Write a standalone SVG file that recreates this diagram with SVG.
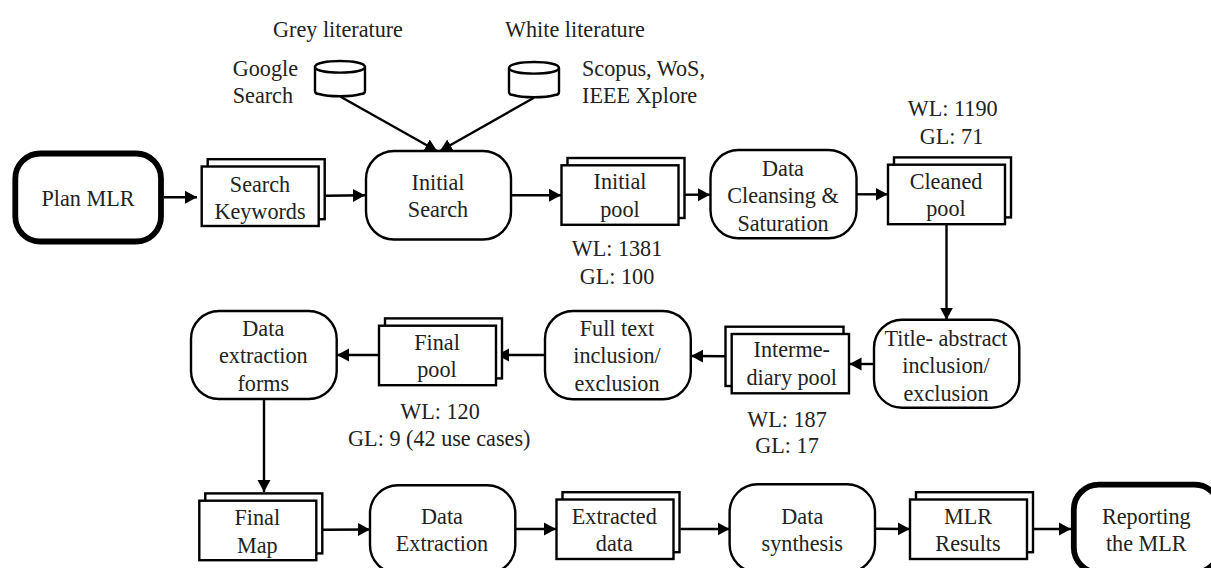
<svg xmlns="http://www.w3.org/2000/svg" width="1211" height="568" viewBox="0 0 1211 568">
<defs>
<style>
text{font-family:"Liberation Serif","Times New Roman",serif;font-size:22.2px;fill:#222;text-anchor:middle}
.p{fill:#fff;stroke:#000;stroke-width:2.4}
.t{fill:#fff;stroke:#000;stroke-width:5.8}
.d{fill:#fff;stroke:#000;stroke-width:2.4}
.n{fill:none;stroke:#000;stroke-width:2.4}
.c line{stroke:#000;stroke-width:2.4;marker-end:url(#a)}
.s{text-anchor:start}
</style>
<marker id="a" markerUnits="userSpaceOnUse" markerWidth="13" markerHeight="14" refX="12" refY="7" orient="auto"><path d="M0 0.500L12 7L0 13.500Z" fill="#000"/></marker>
<symbol id="doc" overflow="visible"><rect class="d" x="6" y="-7.300" width="117" height="60"/><rect class="d" width="117" height="59.500"/></symbol>
</defs>
<g id="connectors" class="c">
<line x1="164" y1="197.300" x2="197" y2="197.300"/>
<line x1="325.700" y1="195.700" x2="365" y2="195.300"/>
<line x1="340.600" y1="96.700" x2="437" y2="151"/>
<line x1="534" y1="97.700" x2="440" y2="151"/>
<line x1="511" y1="195.300" x2="561" y2="195.300"/>
<line x1="685" y1="194.700" x2="710" y2="194.700"/>
<line x1="856.400" y1="194.300" x2="887.600" y2="194.300"/>
<line x1="946.500" y1="224" x2="946.500" y2="319.700"/>
<line x1="874" y1="364" x2="849.500" y2="364"/>
<line x1="725.500" y1="356.300" x2="691" y2="356"/>
<line x1="545" y1="355" x2="497" y2="355"/>
<line x1="379" y1="355" x2="337" y2="355"/>
<line x1="264" y1="399" x2="264" y2="492"/>
<line x1="322.700" y1="529.700" x2="370" y2="529.500"/>
<line x1="515.300" y1="529" x2="556" y2="529"/>
<line x1="680.400" y1="529" x2="729.600" y2="529"/>
<line x1="875" y1="528.700" x2="909.800" y2="529"/>
<line x1="1033" y1="529" x2="1071" y2="529"/>
</g>
<g id="plan"><rect class="t" x="15.300" y="153.500" width="145.700" height="88" rx="25"/><text x="88" y="205.700">Plan MLR</text></g>
<g id="keywords"><use href="#doc" x="201.700" y="166.500"/><text x="260" y="191.700">Search</text><text x="260" y="218.700">Keywords</text></g>
<g id="grey-db"><path class="p" d="M315 67c0-8 50-8 50 0v24c0 2-1 3-4 3c-10 3-32 3-42 0c-3 0-4-1-4-3z"/><path class="n" d="M315 67c0 7.500 50 7.500 50 0"/></g>
<g id="white-db"><path class="p" d="M509 68c0-8 50-8 50 0v24c0 2-1 3-4 3c-10 3-32 3-42 0c-3 0-4-1-4-3z"/><path class="n" d="M509 68c0 7.500 50 7.500 50 0"/></g>
<g id="labels-top"><text x="338" y="36.700">Grey literature</text><text x="575" y="36.700">White literature</text><text class="s" x="232.700" y="76">Google</text><text class="s" x="232.700" y="102.700">Search</text><text class="s" x="582" y="76">Scopus, WoS,</text><text class="s" x="582" y="103">IEEE Xplore</text></g>
<g id="initial-search"><rect class="p" x="366" y="151" width="145" height="88.500" rx="28"/><text x="438" y="190">Initial</text><text x="438" y="217">Search</text></g>
<g id="initial-pool"><use href="#doc" x="561.500" y="165.300"/><text x="620" y="189.300">Initial</text><text x="620" y="216.700">pool</text><text x="617" y="256">WL: 1381</text><text x="617" y="284">GL: 100</text></g>
<g id="cleansing"><rect class="p" x="710.500" y="150" width="146" height="88.300" rx="28"/><text x="783" y="176">Data</text><text x="783" y="203.300">Cleansing &amp;</text><text x="783" y="231">Saturation</text></g>
<g id="cleaned-pool"><use href="#doc" x="888" y="164.700"/><text x="946" y="189">Cleaned</text><text x="946" y="216">pool</text><text x="952.700" y="116">WL: 1190</text><text x="951.500" y="144">GL: 71</text></g>
<g id="title-abstract"><rect class="p" x="874" y="319.700" width="145.300" height="88" rx="28"/><text x="946" y="346">Title- abstract</text><text x="946" y="373">inclusion/</text><text x="946" y="401">exclusion</text></g>
<g id="intermediary"><rect class="d" x="725.500" y="326.700" width="118" height="59.300"/><rect class="d" x="731.700" y="334" width="117.300" height="59.300"/><text x="791.700" y="356.700">Interme-</text><text x="791.700" y="385">diary pool</text><text x="787" y="427">WL: 187</text><text x="787" y="453">GL: 17</text></g>
<g id="full-text"><rect class="p" x="545" y="311" width="145.800" height="88.300" rx="28"/><text x="617" y="335.700">Full text</text><text x="617" y="363.300">inclusion/</text><text x="617" y="390.700">exclusion</text></g>
<g id="final-pool"><use href="#doc" x="379" y="325.700"/><text x="437" y="350">Final</text><text x="437" y="377">pool</text><text x="440" y="419">WL: 120</text><text x="439.300" y="446">GL: 9 (42 use cases)</text></g>
<g id="forms"><rect class="p" x="191" y="311" width="145.700" height="88" rx="28"/><text x="263.300" y="336">Data</text><text x="263.300" y="363.300">extraction</text><text x="263.300" y="390.700">forms</text></g>
<g id="final-map"><use href="#doc" x="199.300" y="500.700"/><text x="257.300" y="525">Final</text><text x="257.300" y="552.700">Map</text></g>
<g id="data-extraction"><rect class="p" x="370" y="485.300" width="145.300" height="88" rx="28"/><text x="442" y="524">Data</text><text x="442" y="551">Extraction</text></g>
<g id="extracted"><use href="#doc" x="556.500" y="499.500"/><text x="614.300" y="524">Extracted</text><text x="614.300" y="551">data</text></g>
<g id="synthesis"><rect class="p" x="729.600" y="484.300" width="145.400" height="88" rx="28"/><text x="802.300" y="524">Data</text><text x="802.300" y="550.700">synthesis</text></g>
<g id="mlr-results"><use href="#doc" x="910" y="499.500"/><text x="968" y="524">MLR</text><text x="968" y="551">Results</text></g>
<g id="reporting"><rect class="t" x="1073.800" y="484.600" width="145.700" height="88" rx="25"/><text x="1146.300" y="524">Reporting</text><text x="1146.300" y="551">the MLR</text></g>
</svg>
